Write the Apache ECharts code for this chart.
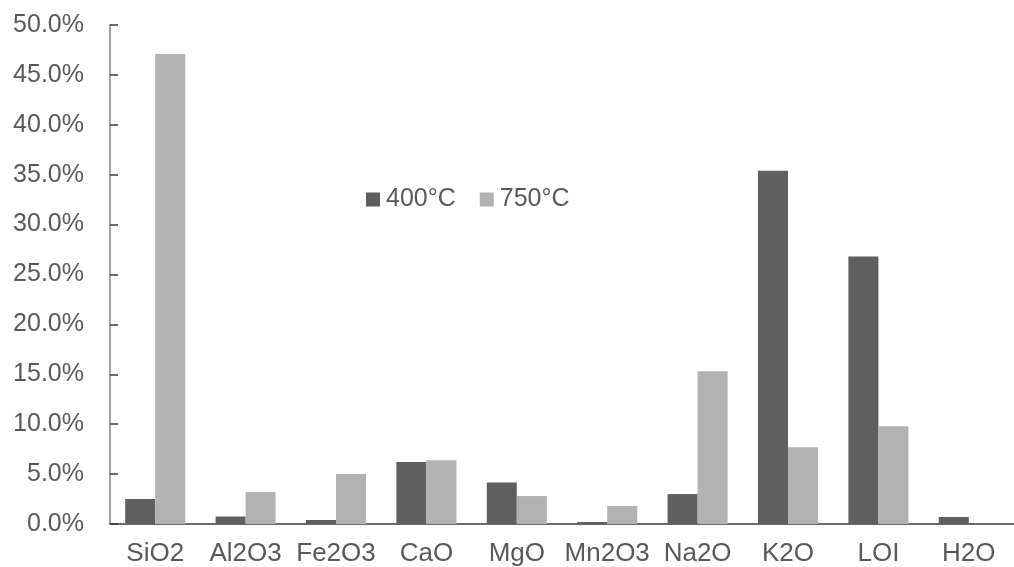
<!DOCTYPE html>
<html>
<head>
<meta charset="utf-8">
<script src="https://cdn.jsdelivr.net/npm/echarts@6/dist/echarts.min.js"></script>
<style>
  html, body { margin: 0; padding: 0; background: #fff; }
  #chart { width: 1014px; height: 567px; }
</style>
</head>
<body>
<div id="chart"></div>
<script>
// Oxide composition at two treatment temperatures (mass %)
const categories = ['SiO2', 'Al2O3', 'Fe2O3', 'CaO', 'MgO', 'Mn2O3', 'Na2O', 'K2O', 'LOI', 'H2O'];
const seriesNames = ['400°C', '750°C'];
const values400 = [2.5, 0.75, 0.4, 6.2, 4.15, 0.2, 3.0, 35.4, 26.8, 0.7];
const values750 = [47.1, 3.2, 5.0, 6.4, 2.8, 1.8, 15.3, 7.7, 9.8, 0];

const FONT = '"Liberation Sans", Arial, sans-serif';
const TEXT = '#595959';

const chart = echarts.init(document.getElementById('chart'), null, { renderer: 'canvas' });
chart.setOption({
  animation: false,
  backgroundColor: '#ffffff',
  textStyle: { fontFamily: FONT, color: TEXT },
  grid: { left: 110, right: 0, top: 25, bottom: 43, containLabel: false, outerBoundsMode: 'none' },
  legend: {
    data: seriesNames,
    left: 366, top: 187, padding: 0,
    itemWidth: 14, itemHeight: 14, itemGap: 24,
    icon: 'rect',
    textStyle: { fontFamily: FONT, fontSize: 25, color: TEXT, padding: [0, 0, 0, 1] }
  },
  xAxis: {
    type: 'category',
    data: categories,
    axisLine: { lineStyle: { color: '#3a3a3a', width: 1.5 } },
    axisTick: { show: false },
    axisLabel: { fontFamily: FONT, fontSize: 26, color: TEXT, margin: 17, interval: 0 }
  },
  yAxis: {
    type: 'value',
    min: 0, max: 50, interval: 5,
    axisLine: { show: true, lineStyle: { color: '#868686', width: 1.5 } },
    axisTick: { show: true, inside: true, length: 8, lineStyle: { color: '#3a3a3a', width: 1.5 } },
    splitLine: { show: false },
    axisLabel: {
      fontFamily: FONT, fontSize: 25, color: TEXT, margin: 26,
      formatter: v => v.toFixed(1) + '%'
    }
  },
  series: [
    {
      name: seriesNames[0], type: 'bar', data: values400,
      barWidth: '33.2%', barGap: '0%',
      itemStyle: { color: '#5f5f5f' }
    },
    {
      name: seriesNames[1], type: 'bar', data: values750,
      barWidth: '33.2%', barGap: '0%',
      itemStyle: { color: '#b2b2b2' }
    }
  ]
});
</script>
</body>
</html>
